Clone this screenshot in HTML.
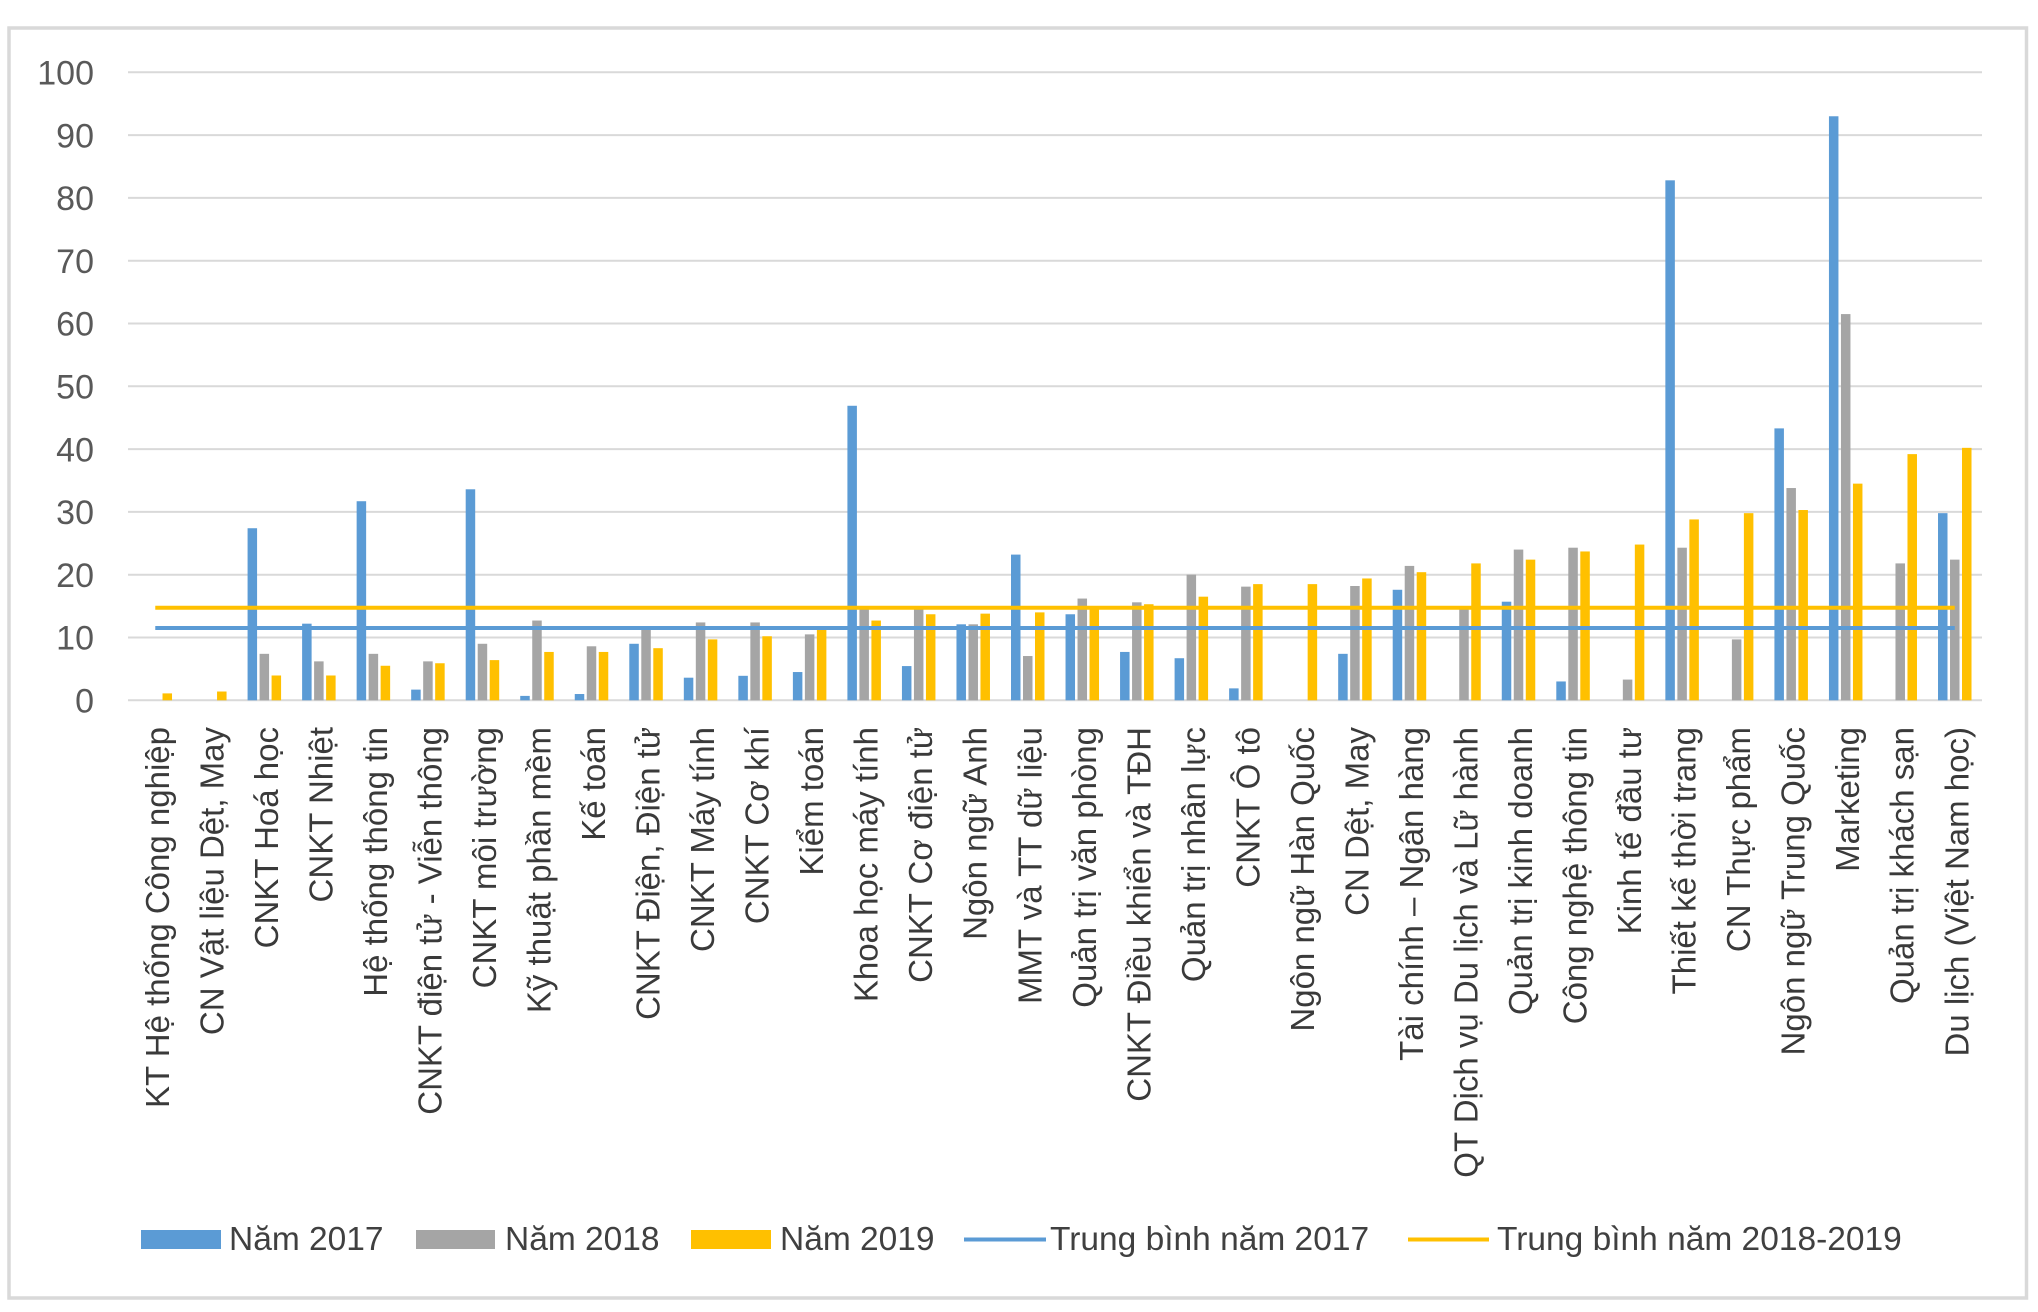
<!DOCTYPE html>
<html>
<head>
<meta charset="utf-8">
<style>
html,body{margin:0;padding:0;background:#fff;}
svg{display:block;}
.yl{font-family:"Liberation Sans",Arial,sans-serif;font-size:34px;fill:#595959;}
.xl{font-family:"Liberation Sans",Arial,sans-serif;font-size:33px;fill:#3a3a3a;white-space:pre;}
.lg{font-family:"Liberation Sans",Arial,sans-serif;font-size:33.5px;fill:#404040;}
</style>
</head>
<body>
<svg width="2038" height="1312" viewBox="0 0 2038 1312" xmlns="http://www.w3.org/2000/svg">
<rect x="0" y="0" width="2038" height="1312" fill="#fff"/>
<rect x="9" y="28" width="2017.5" height="1270" fill="#fff" stroke="#D9D9D9" stroke-width="3.5"/>

<!-- gridlines -->
<g stroke="#D9D9D9" stroke-width="2">
<line x1="128" x2="1982" y1="72.3" y2="72.3"/>
<line x1="128" x2="1982" y1="135.1" y2="135.1"/>
<line x1="128" x2="1982" y1="197.9" y2="197.9"/>
<line x1="128" x2="1982" y1="260.7" y2="260.7"/>
<line x1="128" x2="1982" y1="323.5" y2="323.5"/>
<line x1="128" x2="1982" y1="386.3" y2="386.3"/>
<line x1="128" x2="1982" y1="449.1" y2="449.1"/>
<line x1="128" x2="1982" y1="511.9" y2="511.9"/>
<line x1="128" x2="1982" y1="574.7" y2="574.7"/>
<line x1="128" x2="1982" y1="637.5" y2="637.5"/>
<line x1="128" x2="1982" y1="700.3" y2="700.3"/>
</g>

<!-- y labels -->
<g class="yl" text-anchor="end">
<text x="94" y="84.5">100</text>
<text x="94" y="147.3">90</text>
<text x="94" y="210.1">80</text>
<text x="94" y="272.9">70</text>
<text x="94" y="335.7">60</text>
<text x="94" y="398.5">50</text>
<text x="94" y="461.3">40</text>
<text x="94" y="524.1">30</text>
<text x="94" y="586.9">20</text>
<text x="94" y="649.7">10</text>
<text x="94" y="712.5">0</text>
</g>

<!-- blue bars (2017) -->
<g fill="#5B9BD5">
<rect x="247.58" y="528.23" width="9.5" height="172.07"/>
<rect x="302.11" y="623.68" width="9.5" height="76.62"/>
<rect x="356.64" y="501.22" width="9.5" height="199.08"/>
<rect x="411.17" y="689.62" width="9.5" height="10.68"/>
<rect x="465.70" y="489.29" width="9.5" height="211.01"/>
<rect x="520.23" y="695.90" width="9.5" height="4.40"/>
<rect x="574.76" y="694.02" width="9.5" height="6.28"/>
<rect x="629.29" y="643.78" width="9.5" height="56.52"/>
<rect x="683.82" y="677.69" width="9.5" height="22.61"/>
<rect x="738.35" y="675.81" width="9.5" height="24.49"/>
<rect x="792.88" y="672.04" width="9.5" height="28.26"/>
<rect x="847.41" y="405.77" width="9.5" height="294.53"/>
<rect x="901.94" y="666.07" width="9.5" height="34.23"/>
<rect x="956.47" y="624.31" width="9.5" height="75.99"/>
<rect x="1011.00" y="554.60" width="9.5" height="145.70"/>
<rect x="1065.53" y="614.26" width="9.5" height="86.04"/>
<rect x="1120.06" y="651.94" width="9.5" height="48.36"/>
<rect x="1174.59" y="658.22" width="9.5" height="42.08"/>
<rect x="1229.12" y="688.37" width="9.5" height="11.93"/>
<rect x="1338.18" y="653.83" width="9.5" height="46.47"/>
<rect x="1392.71" y="589.77" width="9.5" height="110.53"/>
<rect x="1501.77" y="601.70" width="9.5" height="98.60"/>
<rect x="1556.30" y="681.46" width="9.5" height="18.84"/>
<rect x="1665.36" y="180.32" width="9.5" height="519.98"/>
<rect x="1774.42" y="428.38" width="9.5" height="271.92"/>
<rect x="1828.95" y="116.26" width="9.5" height="584.04"/>
<rect x="1938.01" y="513.16" width="9.5" height="187.14"/>
</g>

<!-- grey bars (2018) -->
<g fill="#A5A5A5">
<rect x="259.58" y="653.83" width="9.5" height="46.47"/>
<rect x="314.11" y="661.36" width="9.5" height="38.94"/>
<rect x="368.64" y="653.83" width="9.5" height="46.47"/>
<rect x="423.17" y="661.36" width="9.5" height="38.94"/>
<rect x="477.70" y="643.78" width="9.5" height="56.52"/>
<rect x="532.23" y="620.54" width="9.5" height="79.76"/>
<rect x="586.76" y="646.29" width="9.5" height="54.01"/>
<rect x="641.29" y="629.34" width="9.5" height="70.96"/>
<rect x="695.82" y="622.43" width="9.5" height="77.87"/>
<rect x="750.35" y="622.43" width="9.5" height="77.87"/>
<rect x="804.88" y="634.36" width="9.5" height="65.94"/>
<rect x="859.41" y="609.24" width="9.5" height="91.06"/>
<rect x="913.94" y="609.24" width="9.5" height="91.06"/>
<rect x="968.47" y="624.31" width="9.5" height="75.99"/>
<rect x="1023.00" y="656.03" width="9.5" height="44.27"/>
<rect x="1077.53" y="598.56" width="9.5" height="101.74"/>
<rect x="1132.06" y="602.33" width="9.5" height="97.97"/>
<rect x="1186.59" y="574.70" width="9.5" height="125.60"/>
<rect x="1241.12" y="586.63" width="9.5" height="113.67"/>
<rect x="1350.18" y="586.00" width="9.5" height="114.30"/>
<rect x="1404.71" y="565.91" width="9.5" height="134.39"/>
<rect x="1459.24" y="607.98" width="9.5" height="92.32"/>
<rect x="1513.77" y="549.58" width="9.5" height="150.72"/>
<rect x="1568.30" y="547.70" width="9.5" height="152.60"/>
<rect x="1622.83" y="679.58" width="9.5" height="20.72"/>
<rect x="1677.36" y="547.70" width="9.5" height="152.60"/>
<rect x="1731.89" y="639.38" width="9.5" height="60.92"/>
<rect x="1786.42" y="488.04" width="9.5" height="212.26"/>
<rect x="1840.95" y="314.08" width="9.5" height="386.22"/>
<rect x="1895.48" y="563.40" width="9.5" height="136.90"/>
<rect x="1950.01" y="559.63" width="9.5" height="140.67"/>
</g>

<!-- yellow bars (2019) -->
<g fill="#FFC000">
<rect x="162.52" y="693.39" width="9.5" height="6.91"/>
<rect x="217.05" y="691.51" width="9.5" height="8.79"/>
<rect x="271.58" y="675.49" width="9.5" height="24.81"/>
<rect x="326.11" y="675.49" width="9.5" height="24.81"/>
<rect x="380.64" y="665.76" width="9.5" height="34.54"/>
<rect x="435.17" y="663.25" width="9.5" height="37.05"/>
<rect x="489.70" y="660.11" width="9.5" height="40.19"/>
<rect x="544.23" y="651.94" width="9.5" height="48.36"/>
<rect x="598.76" y="651.94" width="9.5" height="48.36"/>
<rect x="653.29" y="648.18" width="9.5" height="52.12"/>
<rect x="707.82" y="639.38" width="9.5" height="60.92"/>
<rect x="762.35" y="636.24" width="9.5" height="64.06"/>
<rect x="816.88" y="629.34" width="9.5" height="70.96"/>
<rect x="871.41" y="620.54" width="9.5" height="79.76"/>
<rect x="925.94" y="614.26" width="9.5" height="86.04"/>
<rect x="980.47" y="613.64" width="9.5" height="86.66"/>
<rect x="1035.00" y="612.38" width="9.5" height="87.92"/>
<rect x="1089.53" y="607.36" width="9.5" height="92.94"/>
<rect x="1144.06" y="604.22" width="9.5" height="96.08"/>
<rect x="1198.59" y="596.68" width="9.5" height="103.62"/>
<rect x="1253.12" y="584.12" width="9.5" height="116.18"/>
<rect x="1307.65" y="584.12" width="9.5" height="116.18"/>
<rect x="1362.18" y="578.47" width="9.5" height="121.83"/>
<rect x="1416.71" y="572.19" width="9.5" height="128.11"/>
<rect x="1471.24" y="563.40" width="9.5" height="136.90"/>
<rect x="1525.77" y="559.63" width="9.5" height="140.67"/>
<rect x="1580.30" y="551.46" width="9.5" height="148.84"/>
<rect x="1634.83" y="544.56" width="9.5" height="155.74"/>
<rect x="1689.36" y="519.44" width="9.5" height="180.86"/>
<rect x="1743.89" y="513.16" width="9.5" height="187.14"/>
<rect x="1798.42" y="510.02" width="9.5" height="190.28"/>
<rect x="1852.95" y="483.64" width="9.5" height="216.66"/>
<rect x="1907.48" y="454.12" width="9.5" height="246.18"/>
<rect x="1962.01" y="447.84" width="9.5" height="252.46"/>
</g>

<!-- average lines -->
<line x1="155.27" x2="1954.76" y1="607.7" y2="607.7" stroke="#FFC000" stroke-width="4"/>
<line x1="155.27" x2="1954.76" y1="628" y2="628" stroke="#5B9BD5" stroke-width="4"/>

<!-- x labels -->
<g class="xl" text-anchor="end">
<text transform="translate(168.8,727) rotate(-90)">KT Hệ thống Công nghiệp</text>
<text transform="translate(223.3,727) rotate(-90)">CN Vật liệu  Dệt, May</text>
<text transform="translate(277.8,727) rotate(-90)">CNKT Hoá học</text>
<text transform="translate(332.4,727) rotate(-90)">CNKT Nhiệt</text>
<text transform="translate(386.9,727) rotate(-90)">Hệ thống thông tin</text>
<text transform="translate(441.4,727) rotate(-90)">CNKT điện tử - Viễn thông</text>
<text transform="translate(496.0,727) rotate(-90)">CNKT môi trường</text>
<text transform="translate(550.5,727) rotate(-90)">Kỹ thuật phần mềm</text>
<text transform="translate(605.0,727) rotate(-90)">Kế toán</text>
<text transform="translate(659.5,727) rotate(-90)">CNKT Điện, Điện tử</text>
<text transform="translate(714.1,727) rotate(-90)">CNKT Máy tính</text>
<text transform="translate(768.6,727) rotate(-90)">CNKT Cơ khí</text>
<text transform="translate(823.1,727) rotate(-90)">Kiểm toán</text>
<text transform="translate(877.7,727) rotate(-90)">Khoa học máy tính</text>
<text transform="translate(932.2,727) rotate(-90)">CNKT Cơ điện tử</text>
<text transform="translate(986.7,727) rotate(-90)">Ngôn ngữ Anh</text>
<text transform="translate(1041.3,727) rotate(-90)">MMT và TT dữ liệu</text>
<text transform="translate(1095.8,727) rotate(-90)">Quản trị văn phòng</text>
<text transform="translate(1150.3,727) rotate(-90)">CNKT Điều khiển và TĐH</text>
<text transform="translate(1204.8,727) rotate(-90)">Quản trị nhân lực</text>
<text transform="translate(1259.4,727) rotate(-90)">CNKT Ô tô</text>
<text transform="translate(1313.9,727) rotate(-90)">Ngôn ngữ Hàn Quốc</text>
<text transform="translate(1368.4,727) rotate(-90)">CN Dệt, May</text>
<text transform="translate(1423.0,727) rotate(-90)">Tài  chính – Ngân hàng</text>
<text transform="translate(1477.5,727) rotate(-90)">QT Dịch vụ Du lịch và Lữ hành</text>
<text transform="translate(1532.0,727) rotate(-90)">Quản trị kinh doanh</text>
<text transform="translate(1586.6,727) rotate(-90)">Công nghệ thông tin</text>
<text transform="translate(1641.1,727) rotate(-90)">Kinh tế đầu tư</text>
<text transform="translate(1695.6,727) rotate(-90)">Thiết kế thời trang</text>
<text transform="translate(1750.1,727) rotate(-90)">CN Thực phẩm</text>
<text transform="translate(1804.7,727) rotate(-90)">Ngôn ngữ Trung Quốc</text>
<text transform="translate(1859.2,727) rotate(-90)">Marketing</text>
<text transform="translate(1913.7,727) rotate(-90)">Quản trị khách sạn</text>
<text transform="translate(1968.3,727) rotate(-90)">Du lịch (Việt Nam học)</text>
</g>

<!-- legend -->
<rect x="141" y="1230" width="80" height="19" fill="#5B9BD5"/>
<text class="lg" x="229" y="1250">Năm 2017</text>
<rect x="416" y="1230" width="79" height="19" fill="#A5A5A5"/>
<text class="lg" x="505" y="1250">Năm 2018</text>
<rect x="691" y="1230" width="80" height="19" fill="#FFC000"/>
<text class="lg" x="780" y="1250">Năm 2019</text>
<line x1="964" x2="1046" y1="1239.5" y2="1239.5" stroke="#5B9BD5" stroke-width="4"/>
<text class="lg" x="1050" y="1250">Trung bình năm 2017</text>
<line x1="1408" x2="1489" y1="1239.5" y2="1239.5" stroke="#FFC000" stroke-width="4"/>
<text class="lg" x="1497" y="1250">Trung bình năm 2018-2019</text>
</svg>
</body>
</html>
